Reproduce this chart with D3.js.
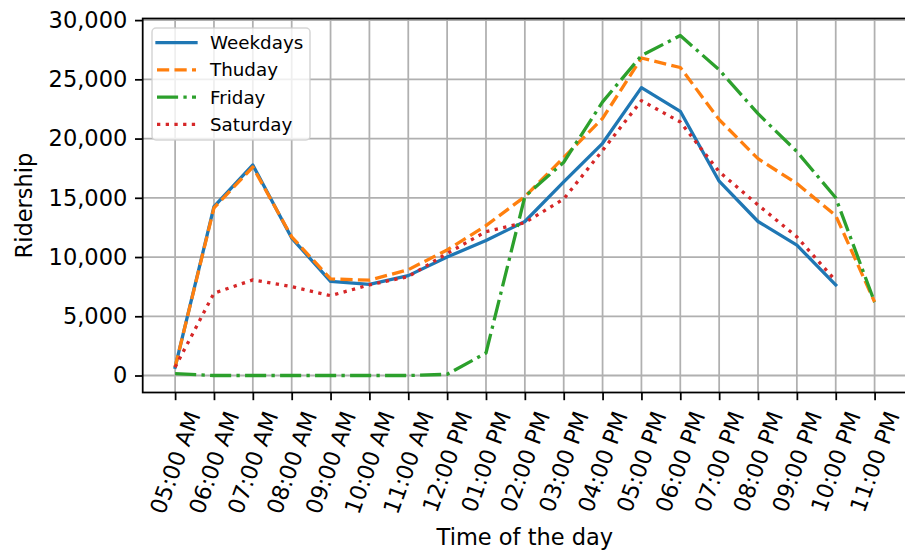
<!DOCTYPE html>
<html>
<head>
<meta charset="utf-8">
<script src="https://cdn.jsdelivr.net/npm/d3@7"></script>
<style>
  html, body { margin: 0; padding: 0; background: #ffffff; }
  svg { display: block; font-family: "DejaVu Sans", sans-serif; }
</style>
</head>
<body>
<svg id="chart" width="905" height="551"></svg>
<script>
// Hourly ridership by day type
const hours = ["05:00 AM", "06:00 AM", "07:00 AM", "08:00 AM", "09:00 AM", "10:00 AM",
  "11:00 AM", "12:00 PM", "01:00 PM", "02:00 PM", "03:00 PM", "04:00 PM", "05:00 PM",
  "06:00 PM", "07:00 PM", "08:00 PM", "09:00 PM", "10:00 PM", "11:00 PM"];

const weekdays = [700, 14250, 17770, 11600, 7950, 7700, 8430, 10000, 11400, 13000,
  16350, 19600, 24300, 22300, 16400, 13000, 11000, 7650];
const thuday = [700, 14150, 17600, 11700, 8150, 8050, 8930, 10600, 12650, 15100,
  18400, 21700, 26800, 26000, 21600, 18300, 16200, 13500, 6200];
const friday = [150, 0, 0, 0, 0, 0, 0, 100, 1900, 15100,
  18000, 23100, 27000, 28700, 25800, 22100, 18900, 15000, 6200];
const saturday = [700, 6950, 8070, 7500, 6740, 7650, 8350, 10300, 12150, 12900,
  14900, 19000, 23200, 21400, 17200, 14400, 11700, 8000];

const yTicks = [0, 5000, 10000, 15000, 20000, 25000, 30000];

const seriesNames = ["Weekdays", "Thuday", "Friday", "Saturday"];
const seriesValues = [weekdays, thuday, friday, saturday];
const seriesColors = ["#1f77b4", "#ff7f0e", "#2ca02c", "#d62728"];
const seriesDashes = [null, "12.2,5.3", "21.1,5.3,3.3,5.3", "3.3,5.4"];

// layout (pixels)
const plot = { left: 142.7, right: 907, top: 18.5, bottom: 392.5 };
const lw = 3.3, gridW = 1.76, spineW = 1.76, tickLen = 7.7, tickPad = 7.7;
const tickFont = 22.5, labelFont = 22.5, legendFont = 18.3;

const svg = d3.select("#chart");
svg.append("rect").attr("width", 905).attr("height", 551).attr("fill", "#ffffff");

const x = d3.scaleLinear().domain([-0.834, 18.834]).range([plot.left, plot.right]);
const y = d3.scaleLinear().domain([-1435, 30135]).range([plot.bottom, plot.top]);
const idx = d3.range(hours.length);

svg.append("defs").append("clipPath").attr("id", "plotClip")
  .append("rect")
  .attr("x", plot.left).attr("y", plot.top)
  .attr("width", plot.right - plot.left).attr("height", plot.bottom - plot.top);

// grid
const grid = svg.append("g").attr("stroke", "#b0b0b0").attr("stroke-width", gridW)
  .attr("clip-path", "url(#plotClip)");
grid.selectAll("line.v").data(idx).join("line").attr("class", "v")
  .attr("x1", d => x(d)).attr("x2", d => x(d))
  .attr("y1", plot.top).attr("y2", plot.bottom);
grid.selectAll("line.h").data(yTicks).join("line").attr("class", "h")
  .attr("x1", plot.left).attr("x2", plot.right)
  .attr("y1", d => y(d)).attr("y2", d => y(d));

// series lines
const line = d3.line().x((d, i) => x(i)).y(d => y(d));
const lines = svg.append("g").attr("clip-path", "url(#plotClip)");
seriesValues.forEach((vals, k) => {
  lines.append("path")
    .datum(vals)
    .attr("d", line)
    .attr("fill", "none")
    .attr("stroke", seriesColors[k])
    .attr("stroke-width", lw)
    .attr("stroke-linejoin", "round")
    .attr("stroke-linecap", seriesDashes[k] ? "butt" : "square")
    .attr("stroke-dasharray", seriesDashes[k]);
});

// spines
const spines = svg.append("g").attr("stroke", "#000").attr("stroke-width", spineW)
  .attr("fill", "none");
spines.append("rect")
  .attr("x", plot.left).attr("y", plot.top)
  .attr("width", plot.right - plot.left).attr("height", plot.bottom - plot.top);

// y axis
const yAxis = d3.axisLeft(y).tickValues(yTicks).tickSize(tickLen).tickPadding(tickPad)
  .tickFormat(d3.format(","));
const gy = svg.append("g").attr("transform", `translate(${plot.left},0)`).call(yAxis);
gy.select(".domain").remove();
gy.selectAll(".tick line").attr("stroke", "#000").attr("stroke-width", spineW);
gy.selectAll(".tick text").attr("font-size", tickFont).attr("fill", "#000")
  .attr("font-family", "DejaVu Sans");

// x axis with rotated labels
const xAxis = d3.axisBottom(x).tickValues(idx).tickSize(tickLen).tickFormat(() => "");
const gx = svg.append("g").attr("transform", `translate(0,${plot.bottom})`).call(xAxis);
gx.select(".domain").remove();
gx.selectAll(".tick line").attr("stroke", "#000").attr("stroke-width", spineW);

const labelTop = plot.bottom + tickLen + tickPad;
const xl = svg.append("g");
hours.forEach((h, i) => {
  const g = xl.append("g");
  g.append("text")
    .attr("transform", "rotate(-70)")
    .attr("text-anchor", "middle")
    .attr("dominant-baseline", "central")
    .attr("font-size", tickFont)
    .attr("fill", "#000")
    .text(h);
  const bb = g.node().getBBox();
  g.attr("transform", `translate(${x(i) - (bb.x + bb.width / 2)},${labelTop - bb.y})`);
});

// axis titles
svg.append("text")
  .attr("x", (plot.left + plot.right) / 2).attr("y", 545)
  .attr("text-anchor", "middle").attr("font-size", labelFont).attr("fill", "#000")
  .text("Time of the day");
svg.append("text")
  .attr("transform", `translate(31.5,${(plot.top + plot.bottom) / 2}) rotate(-90)`)
  .attr("text-anchor", "middle").attr("font-size", labelFont).attr("fill", "#000")
  .text("Ridership");

// legend
const legend = svg.append("g");
legend.append("rect")
  .attr("x", 152).attr("y", 28).attr("width", 158).attr("height", 112)
  .attr("rx", 4).attr("ry", 4)
  .attr("fill", "rgba(255,255,255,0.8)")
  .attr("stroke", "rgba(204,204,204,0.8)").attr("stroke-width", 1.5);
seriesNames.forEach((name, k) => {
  const cy = 42.7 + k * 27.2;
  legend.append("line")
    .attr("x1", 157).attr("x2", 196).attr("y1", cy).attr("y2", cy)
    .attr("stroke", seriesColors[k]).attr("stroke-width", lw)
    .attr("stroke-linecap", seriesDashes[k] ? "butt" : "square")
    .attr("stroke-dasharray", seriesDashes[k]);
  legend.append("text")
    .attr("x", 210).attr("y", cy)
    .attr("dominant-baseline", "central")
    .attr("font-size", legendFont).attr("fill", "#000")
    .text(name);
});
</script>
</body>
</html>
